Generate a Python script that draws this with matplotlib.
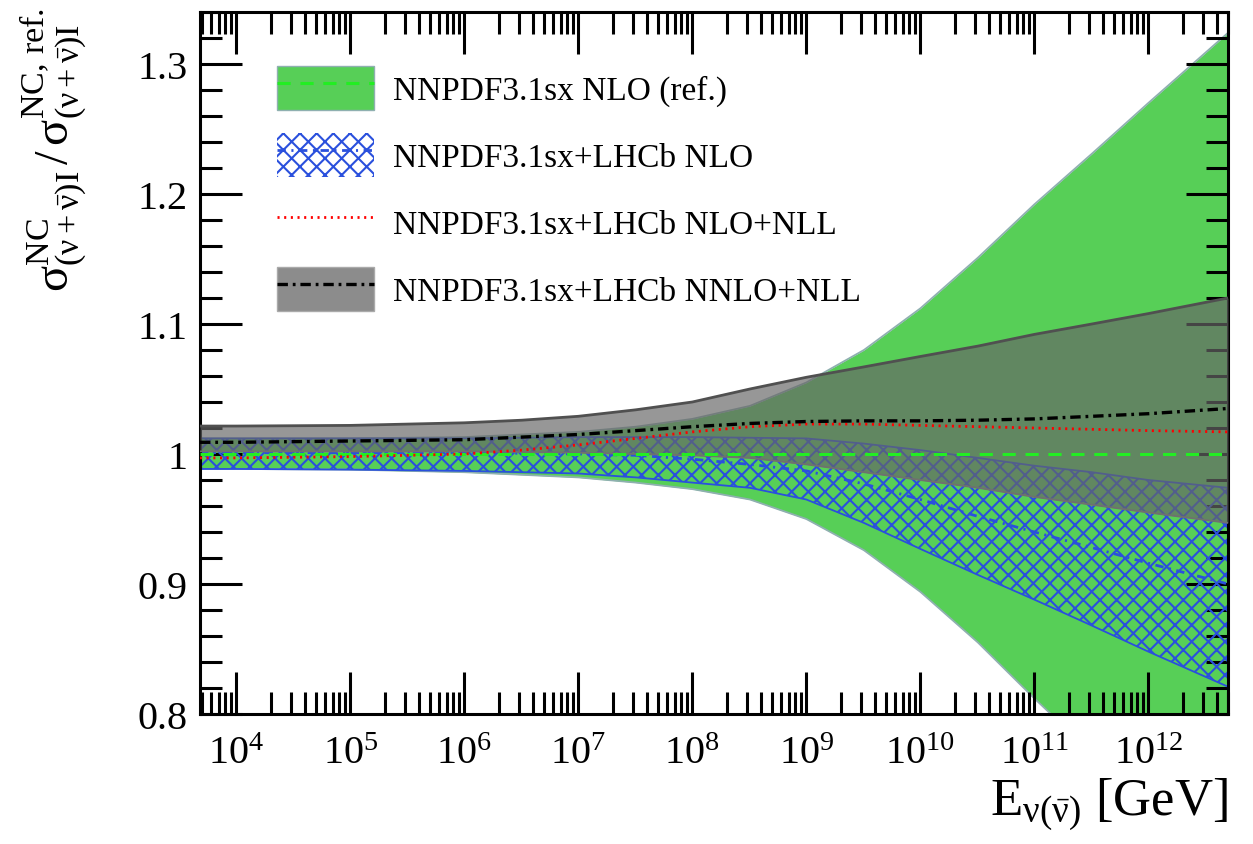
import numpy as np
import matplotlib
matplotlib.use("Agg")
import matplotlib.pyplot as plt
from matplotlib.patches import Patch
from matplotlib.lines import Line2D
from matplotlib.ticker import MultipleLocator, LogLocator, FuncFormatter, NullFormatter

plt.rcParams['font.family'] = ['Liberation Serif', 'DejaVu Serif']
plt.rcParams['mathtext.fontset'] = 'custom'
plt.rcParams['mathtext.rm'] = 'Liberation Serif'
plt.rcParams['mathtext.it'] = 'Liberation Serif:italic'
plt.rcParams['mathtext.bf'] = 'Liberation Serif:bold'
plt.rcParams['lines.scale_dashes'] = False
plt.rcParams['hatch.linewidth'] = 1.5

# neutrino energy grid [GeV]
energy = [4.8e3, 1e4, 1e5, 1e6, 3.2e6, 1e7, 3.2e7, 1e8, 3.2e8, 1e9,
          3.2e9, 1e10, 3.2e10, 1e11, 3.2e11, 1e12, 5e12]

# NNPDF3.1sx NLO (reference)
ref_central = [1.0] * len(energy)
ref_up = [1.012, 1.012, 1.012, 1.013, 1.015, 1.017, 1.021, 1.027, 1.037, 1.055,
          1.080, 1.112, 1.151, 1.192, 1.231, 1.270, 1.324]
ref_lo = [0.9885, 0.9885, 0.988, 0.986, 0.984, 0.982, 0.978, 0.973, 0.965, 0.950,
          0.926, 0.894, 0.855, 0.812, 0.770, 0.730, 0.676]

# NNPDF3.1sx+LHCb NLO
lhcb_central = [1.001, 1.001, 1.001, 1.001, 1.0005, 1.000, 0.999, 0.996, 0.992, 0.987,
                0.977, 0.965, 0.952, 0.940, 0.928, 0.916, 0.900]
lhcb_up = [1.012, 1.012, 1.012, 1.012, 1.0125, 1.013, 1.013, 1.013, 1.0125, 1.012,
           1.008, 1.003, 0.997, 0.991, 0.986, 0.980, 0.974]
lhcb_lo = [0.9885, 0.9885, 0.988, 0.987, 0.986, 0.985, 0.982, 0.978, 0.974, 0.965,
           0.947, 0.927, 0.907, 0.888, 0.868, 0.848, 0.821]

# NNPDF3.1sx+LHCb NLO+NLL
nll_central = [0.997, 0.997, 0.998, 1.000, 1.003, 1.007, 1.012, 1.017, 1.021, 1.023,
               1.023, 1.022, 1.021, 1.020, 1.019, 1.018, 1.017]

# NNPDF3.1sx+LHCb NNLO+NLL
nnlo_central = [1.009, 1.009, 1.010, 1.011, 1.013, 1.015, 1.018, 1.021, 1.0235, 1.025,
                1.0255, 1.0255, 1.026, 1.027, 1.029, 1.031, 1.035]
nnlo_up = [1.0215, 1.0215, 1.022, 1.024, 1.026, 1.029, 1.034, 1.040, 1.050, 1.059,
           1.067, 1.075, 1.083, 1.092, 1.100, 1.108, 1.120]
nnlo_lo = [1.002, 1.002, 1.002, 1.002, 1.0015, 1.001, 1.000, 0.999, 0.997, 0.992,
           0.986, 0.980, 0.974, 0.967, 0.961, 0.955, 0.947]

labels = ["NNPDF3.1sx NLO (ref.)", "NNPDF3.1sx+LHCb NLO",
          "NNPDF3.1sx+LHCb NLO+NLL", "NNPDF3.1sx+LHCb NNLO+NLL"]

green = '#57cf57'
green_edge = '#8fb0b0'
blue = '#2a50dd'
gray = '#666666'

fig = plt.figure(figsize=(12.53, 8.45), dpi=100)
ax = fig.add_axes([200 / 1253, 1 - 715 / 845, 1028 / 1253, 702 / 845])

# bands
ax.fill_between(energy, ref_lo, ref_up, color=green, lw=0, zorder=1)
ax.plot(energy, ref_up, color=green_edge, lw=1.3, zorder=1.1)
ax.plot(energy, ref_lo, color=green_edge, lw=1.3, zorder=1.1)

ax.fill_between(energy, lhcb_lo, lhcb_up, facecolor='none', edgecolor=blue,
                hatch='xx', lw=0, zorder=2)
ax.plot(energy, lhcb_up, color=blue, lw=1.3, zorder=2.1)
ax.plot(energy, lhcb_lo, color=blue, lw=1.3, zorder=2.1)
ax.plot(energy, lhcb_central, color=blue, lw=2, dashes=(6, 4, 1.5, 4), zorder=2.2)

ax.fill_between(energy, nnlo_lo, nnlo_up, color=gray, alpha=0.68, lw=0, zorder=3)
ax.plot(energy, nnlo_up, color='#505050', lw=2, zorder=3.1)
ax.plot(energy, nnlo_lo, color='#707070', lw=1.3, zorder=3.1)

# central lines
ax.plot(energy, ref_central, color='#22ee22', lw=2.2, dashes=(9.5, 7), zorder=4)
ax.plot(energy, nll_central, color='red', lw=2, dashes=(1.5, 3.3), zorder=4)
ax.plot(energy, nnlo_central, color='black', lw=2.4, dashes=(7.5, 3.5, 2, 3.5), zorder=4)

ax.set_xscale('log')
ax.set_xlim(4.8e3, 5e12)
ax.set_ylim(0.8, 1.34)

ax.xaxis.set_major_locator(LogLocator(base=10, numticks=20))
ax.xaxis.set_minor_locator(LogLocator(base=10, subs=np.arange(2, 10), numticks=200))
ax.xaxis.set_minor_formatter(NullFormatter())
ax.yaxis.set_major_locator(MultipleLocator(0.1))
ax.yaxis.set_minor_locator(MultipleLocator(0.02))
ax.yaxis.set_major_formatter(FuncFormatter(lambda v, p: '%g' % round(v, 3)))

ax.tick_params(which='both', direction='in', top=True, right=True, width=2.2,
               labelsize=29)
ax.tick_params(which='major', length=30)
ax.tick_params(which='minor', length=16)
ax.tick_params(axis='y', pad=9)
ax.tick_params(axis='x', pad=15)
for s in ax.spines.values():
    s.set_linewidth(2.2)

fig.text(1228 / 1253, 1 - 816 / 845,
         r'$\mathrm{E}_{\mathrm{ν(\bar{ν})}}$ [GeV]', fontsize=38,
         ha='right', va='baseline')
fig.text(54 / 1253, 1 - 8 / 845,
         r'$\mathrm{σ}^{\mathrm{NC}}_{\mathrm{(ν+\bar{ν})I}}\,/\,'
         r'\mathrm{σ}^{\mathrm{NC,\,ref.}}_{\mathrm{(ν+\bar{ν})I}}$',
         fontsize=35, rotation=90, ha='center', va='top')

handles = [
    (Patch(facecolor=green, edgecolor=green_edge, lw=1),
     Line2D([], [], color='#22ee22', lw=2.2, dashes=(9.5, 7))),
    (Patch(facecolor='none', edgecolor=blue, hatch='xx', lw=0),
     Line2D([], [], color=blue, lw=2, dashes=(6, 4, 1.5, 4))),
    Line2D([], [], color='red', lw=2, dashes=(1.5, 3.3)),
    (Patch(facecolor='#8c8c8c', edgecolor='#aaaaaa', lw=1),
     Line2D([], [], color='black', lw=2.4, dashes=(7.5, 3.5, 2, 3.5))),
]
ax.legend(handles, labels, loc='upper left',
          bbox_to_anchor=(277 / 1253, 1 - 67 / 845), bbox_transform=fig.transFigure,
          frameon=False, fontsize=24, handlelength=2.92, handleheight=1.67,
          labelspacing=0.68, handletextpad=0.55, borderpad=0, borderaxespad=0)

fig.savefig('out.png', dpi=100)
